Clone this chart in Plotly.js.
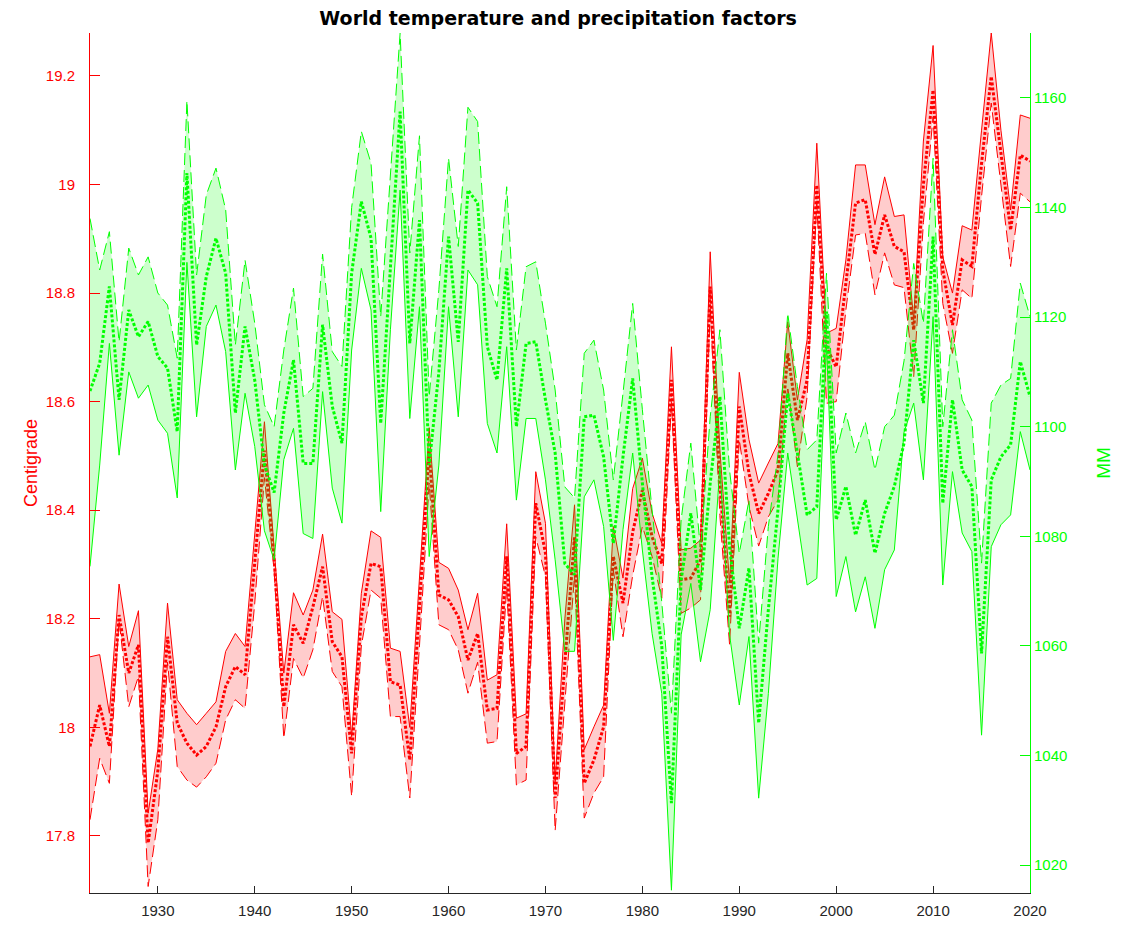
<!DOCTYPE html>
<html>
<head>
<meta charset="utf-8">
<script src="https://cdn.plot.ly/plotly-3.0.1.min.js"></script>
<style>
html,body{margin:0;padding:0;background:#fff;}
#chart{width:1124px;height:925px;}
</style>
</head>
<body>
<div id="chart"></div>
<script>
const years = [1923,1924,1925,1926,1927,1928,1929,1930,1931,1932,1933,1934,1935,1936,1937,1938,1939,1940,1941,1942,1943,1944,1945,1946,1947,1948,1949,1950,1951,1952,1953,1954,1955,1956,1957,1958,1959,1960,1961,1962,1963,1964,1965,1966,1967,1968,1969,1970,1971,1972,1973,1974,1975,1976,1977,1978,1979,1980,1981,1982,1983,1984,1985,1986,1987,1988,1989,1990,1991,1992,1993,1994,1995,1996,1997,1998,1999,2000,2001,2002,2003,2004,2005,2006,2007,2008,2009,2010,2011,2012,2013,2014,2015,2016,2017,2018,2019,2020];

// Temperature (Centigrade): solid line, dotted line, dashed line
const tempSolid = [18.13,18.134,18.026,18.264,18.149,18.215,17.842,17.96,18.229,18.051,18.026,18.005,18.026,18.047,18.14,18.173,18.149,18.364,18.563,18.33,18.10,18.248,18.207,18.253,18.356,18.213,18.199,17.983,18.247,18.362,18.35,18.146,18.14,18.0,18.27,18.552,18.304,18.293,18.253,18.18,18.247,18.087,18.097,18.375,18.017,18.025,18.471,18.376,17.90,18.2,18.41,17.959,18.001,18.041,18.37,18.275,18.44,18.496,18.395,18.339,18.701,18.327,18.33,18.345,18.876,18.511,18.266,18.654,18.53,18.45,18.487,18.523,18.747,18.603,18.714,19.076,18.726,18.735,18.861,19.036,19.036,18.926,19.014,18.941,18.944,18.751,19.08,19.256,18.867,18.8,18.924,18.916,19.1,19.279,19.1,18.953,19.128,19.122];
const tempDotted = [17.965,18.041,17.965,18.207,18.10,18.152,17.787,17.92,18.167,18.008,17.971,17.949,17.965,18.001,18.075,18.112,18.097,18.302,18.51,18.31,18.038,18.189,18.155,18.222,18.296,18.158,18.130,17.952,18.204,18.302,18.296,18.084,18.078,17.94,18.22,18.511,18.244,18.235,18.204,18.124,18.173,18.032,18.035,18.315,17.952,17.965,18.413,18.321,17.87,18.12,18.35,17.897,17.94,18.001,18.315,18.229,18.36,18.437,18.351,18.302,18.64,18.272,18.275,18.308,18.812,18.45,18.204,18.591,18.468,18.394,18.431,18.474,18.689,18.566,18.64,18.999,18.70,18.664,18.818,18.966,18.972,18.871,18.944,18.886,18.876,18.732,19.0,19.174,18.843,18.741,18.861,18.849,19.039,19.199,19.058,18.916,19.054,19.043];
const tempDashed = [17.83,17.943,17.897,18.198,18.038,18.094,17.707,17.83,18.12,17.928,17.903,17.89,17.909,17.934,18.014,18.051,18.035,18.229,18.46,18.29,17.98,18.127,18.091,18.143,18.241,18.103,18.075,17.873,18.15,18.253,18.238,18.02,18.02,17.87,18.15,18.45,18.189,18.18,18.143,18.063,18.12,17.971,17.974,18.259,17.894,17.903,18.351,18.278,17.81,18.04,18.28,17.833,17.879,17.909,18.29,18.167,18.28,18.37,18.315,18.238,18.6,18.21,18.22,18.235,18.775,18.39,18.152,18.53,18.407,18.334,18.388,18.419,18.628,18.48,18.609,18.966,18.597,18.60,18.769,18.907,18.91,18.797,18.874,18.815,18.81,18.646,18.93,19.125,18.781,18.689,18.806,18.79,18.978,19.15,19.002,18.849,18.984,18.968];

// Precipitation (MM): dashed line, dotted line, solid line
const precDashed = [1138,1128.6,1135.6,1115.5,1132.6,1127.7,1131,1124.4,1122.2,1112.5,1159.5,1127.7,1142.3,1147.2,1139.6,1114.9,1130.4,1118.9,1104,1100,1114,1125.3,1105.5,1107,1131.5,1113.7,1111,1140,1153.9,1148.1,1120.1,1145.6,1171.8,1131.7,1153.1,1105.5,1125,1149,1132.9,1158.3,1155.7,1127.4,1121.9,1143.8,1114,1129.2,1130.1,1118.9,1106.7,1089,1087,1113.4,1115.8,1106.7,1090.3,1106.1,1122.5,1103.1,1084.8,1068,1047.7,1083,1097,1077.5,1101.8,1117.7,1092,1076.9,1086.6,1060.5,1081.8,1095,1120.7,1107.3,1095.8,1097.6,1128,1095.2,1102.5,1095.2,1100.9,1092.1,1100,1102.1,1112,1129.8,1118.9,1149,1100,1117.7,1104.9,1101.2,1075.1,1104.3,1107.6,1108.8,1126.2,1120.1];
const precDotted = [1106.5,1111.6,1125.6,1104.9,1121.3,1116.4,1119.2,1112.8,1110.7,1099.1,1146.3,1114.9,1127.4,1134.4,1128,1102.5,1118.3,1108.5,1093,1088,1102.5,1112.2,1093.3,1093.3,1118.6,1103.7,1097,1128,1141.1,1134.4,1100.6,1129.8,1157.5,1115.2,1137.7,1093,1110,1134.7,1115.5,1143.2,1140.8,1114.6,1108.5,1128.9,1100,1115.2,1115.5,1104.9,1095.2,1075,1073,1101.8,1102.1,1094.5,1078.7,1094.5,1108.8,1089.7,1072.6,1060,1031.3,1072,1084.2,1070.2,1089.7,1105.5,1078,1063.2,1074.2,1045.9,1066.6,1085,1106.1,1095.2,1083.9,1085.4,1121,1083,1089.1,1080.2,1086.6,1076.9,1084.2,1089.1,1097,1115.8,1104.3,1134.7,1086,1104.9,1092.1,1089.1,1058.6,1090.3,1094.5,1096.7,1111.9,1105.5];
const precSolid = [1074.5,1093,1115.2,1094.8,1110,1105.2,1107.6,1101.2,1098.8,1087,1130,1101.8,1118.3,1122.2,1113.7,1092.1,1106.1,1096.4,1081,1075.7,1094,1099.7,1080.5,1079.6,1106.4,1088.8,1082.4,1114,1128.9,1121.3,1084.5,1117.7,1143.2,1101.5,1121.9,1076.3,1093,1121.9,1101.8,1128.6,1125.9,1100.6,1095.2,1114.6,1086.6,1101.5,1101.5,1090.3,1075.7,1059,1059,1087.2,1090.3,1081.8,1061,1081.2,1095.2,1077.5,1062.3,1051.3,1015.4,1062,1071.4,1057.1,1066.6,1092.7,1062,1049.2,1061.7,1032.2,1051.3,1076,1095.2,1083,1071.1,1072.3,1115,1069,1076.3,1066.2,1072.6,1063.2,1073.9,1077.5,1099,1104.3,1090.3,1120.1,1071.1,1091.8,1080.6,1077.2,1043.7,1078.1,1082.1,1083.9,1099.1,1092.1];

const xTicks = [1930,1940,1950,1960,1970,1980,1990,2000,2010,2020];
const leftTicks = [17.8,18,18.2,18.4,18.6,18.8,19,19.2];
const leftTickText = ['17.8','18','18.2','18.4','18.6','18.8','19','19.2'];
const rightTicks = [1020,1040,1060,1080,1100,1120,1140,1160];

const RED = '#ff0000';
const GREEN = '#00ff00';
const DASH = '12px,5px';
const DOT = '3px,2px';

const traces = [
  {x: years, y: tempSolid, type:'scatter', mode:'lines', line:{color:RED, width:1}, hoverinfo:'skip'},
  {x: years, y: tempDashed, type:'scatter', mode:'lines', fill:'tonexty', fillcolor:'rgba(255,0,0,0.2)', line:{color:RED, width:1, dash:DASH}, hoverinfo:'skip'},
  {x: years, y: tempDotted, type:'scatter', mode:'lines', line:{color:RED, width:3, dash:DOT}, hoverinfo:'skip'},
  {x: years, y: precSolid, yaxis:'y2', type:'scatter', mode:'lines', line:{color:GREEN, width:1}, hoverinfo:'skip'},
  {x: years, y: precDashed, yaxis:'y2', type:'scatter', mode:'lines', fill:'tonexty', fillcolor:'rgba(0,255,0,0.2)', line:{color:GREEN, width:1, dash:DASH}, hoverinfo:'skip'},
  {x: years, y: precDotted, yaxis:'y2', type:'scatter', mode:'lines', line:{color:GREEN, width:3, dash:DOT}, hoverinfo:'skip'}
];

const FONT = 'Liberation Sans, Arial, Helvetica, sans-serif';

const layout = {
  width: 1124, height: 925,
  margin: {l: 90, r: 94, t: 33, b: 32},
  paper_bgcolor: '#fff', plot_bgcolor: '#fff',
  showlegend: false,
  font: {family: FONT},
  title: {text: '<b>World temperature and precipitation factors</b>', font: {family: 'DejaVu Sans, sans-serif', size: 19, color: '#000'},
          x: 0.498, xanchor: 'center', xref: 'paper', y: 1 - 18/925, yref: 'container', yanchor: 'middle'},
  xaxis: {range: [1923, 2020], tickvals: xTicks, ticks: 'inside', ticklen: 7, tickcolor: '#262626', tickwidth: 1,
          showline: true, linecolor: '#262626', linewidth: 1, showgrid: false, zeroline: false,
          ticklabelstandoff: 4,
          tickfont: {family: FONT, size: 15, color: '#262626'}},
  yaxis: {range: [17.695, 19.279], tickvals: leftTicks, ticktext: leftTickText, ticks: 'inside', ticklen: 10,
          tickcolor: RED, showline: true, linecolor: RED, linewidth: 1, showgrid: false, zeroline: false,
          ticklabelstandoff: 11,
          tickfont: {family: FONT, size: 15, color: RED},
          title: {text: 'Centigrade', font: {family: FONT, size: 18, color: RED}, standoff: 3}},
  yaxis2: {range: [1014.89, 1171.86], overlaying: 'y', side: 'right', tickvals: rightTicks, ticks: 'inside', ticklen: 10,
          tickcolor: GREEN, showline: true, linecolor: GREEN, linewidth: 1, showgrid: false, zeroline: false,
          tickfont: {family: FONT, size: 15, color: GREEN},
          title: {text: 'MM', font: {family: FONT, size: 19, color: GREEN}, standoff: 30}}
};

Plotly.newPlot('chart', traces, layout, {displayModeBar: false, staticPlot: true});
</script>
</body>
</html>
